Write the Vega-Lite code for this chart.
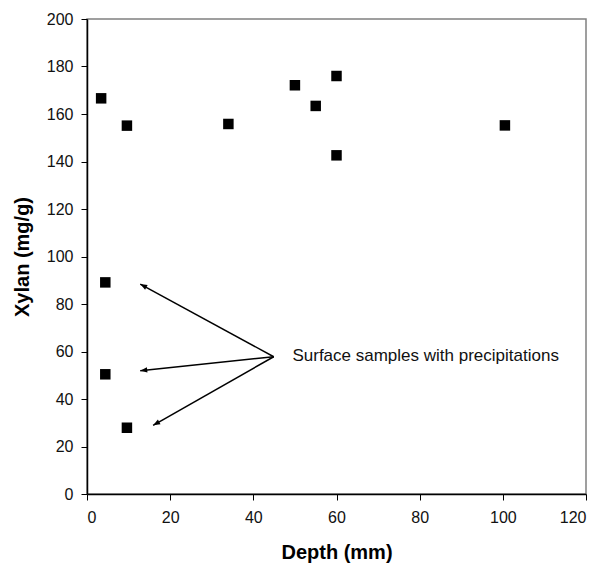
{
  "$schema": "https://vega.github.io/schema/vega-lite/v6.json",
  "width": 499,
  "height": 475,
  "autosize": {"type": "none"},
  "padding": {"left": 87, "top": 19, "right": 23, "bottom": 73},
  "background": "white",
  "config": {
    "view": {"stroke": "#808080", "strokeWidth": 1.5},
    "font": "Liberation Sans",
    "axis": {
      "grid": false,
      "domainColor": "black",
      "domainWidth": 1.5,
      "tickColor": "black",
      "tickSize": 6,
      "tickWidth": 1,
      "labelFont": "Liberation Sans",
      "labelFontSize": 16,
      "labelColor": "#111",
      "titleFont": "Liberation Sans",
      "titleFontSize": 20,
      "titleFontWeight": "bold",
      "titleColor": "black"
    }
  },
  "datasets": {
    "samples": [
      {"depth": 3.4, "xylan": 166.6},
      {"depth": 9.6, "xylan": 155.1},
      {"depth": 34, "xylan": 155.8},
      {"depth": 50, "xylan": 172.1},
      {"depth": 55, "xylan": 163.4},
      {"depth": 60, "xylan": 176},
      {"depth": 60, "xylan": 142.6},
      {"depth": 100.5, "xylan": 155.2},
      {"depth": 4.4, "xylan": 89.1},
      {"depth": 4.4, "xylan": 50.4},
      {"depth": 9.6, "xylan": 27.9}
    ],
    "arrows": [
      {"fromDepth": 44.9, "fromXylan": 57.8, "toDepth": 12.8, "toXylan": 88.4, "heading": 298.6},
      {"fromDepth": 44.9, "fromXylan": 57.8, "toDepth": 12.8, "toXylan": 51.9, "heading": 263.6},
      {"fromDepth": 44.9, "fromXylan": 57.8, "toDepth": 15.9, "toXylan": 28.9, "heading": 240.2}
    ],
    "notes": [
      {"depth": 49.4, "xylan": 58, "label": "Surface samples with precipitations"}
    ]
  },
  "layer": [
    {
      "data": {"name": "arrows"},
      "mark": {"type": "rule", "color": "black", "strokeWidth": 1.5},
      "encoding": {
        "x": {"field": "fromDepth", "type": "quantitative", "scale": {"domain": [0, 120], "nice": false, "zero": false},
              "axis": {"values": [0, 20, 40, 60, 80, 100, 120], "title": "Depth (mm)", "labelPadding": 9, "titlePadding": 17}},
        "y": {"field": "fromXylan", "type": "quantitative", "scale": {"domain": [0, 200], "nice": false, "zero": false},
              "axis": {"values": [0, 20, 40, 60, 80, 100, 120, 140, 160, 180, 200], "title": "Xylan (mg/g)", "labelPadding": 8, "titlePadding": 14}},
        "x2": {"field": "toDepth"},
        "y2": {"field": "toXylan"}
      }
    },
    {
      "data": {"name": "arrows"},
      "mark": {"type": "point", "shape": "M0,0L-0.75,2L0.75,2Z", "filled": true, "color": "black", "opacity": 1, "size": 49},
      "encoding": {
        "x": {"field": "toDepth", "type": "quantitative"},
        "y": {"field": "toXylan", "type": "quantitative"},
        "angle": {"field": "heading", "type": "quantitative", "scale": null}
      }
    },
    {
      "data": {"name": "samples"},
      "mark": {"type": "point", "shape": "square", "filled": true, "color": "black", "opacity": 1, "size": 110},
      "encoding": {
        "x": {"field": "depth", "type": "quantitative"},
        "y": {"field": "xylan", "type": "quantitative"}
      }
    },
    {
      "data": {"name": "notes"},
      "mark": {"type": "text", "align": "left", "baseline": "middle", "fontSize": 17, "font": "Liberation Sans", "color": "#111"},
      "encoding": {
        "x": {"field": "depth", "type": "quantitative"},
        "y": {"field": "xylan", "type": "quantitative"},
        "text": {"field": "label"}
      }
    }
  ]
}
